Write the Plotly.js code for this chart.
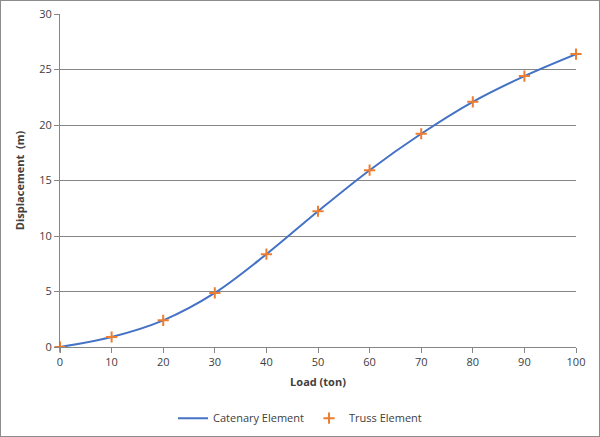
<!DOCTYPE html>
<html>
<head>
<meta charset="utf-8">
<script src="https://cdn.plot.ly/plotly-3.0.1.min.js"></script>
<style>
html,body{margin:0;padding:0;background:#fff;}
#wrap{width:598px;height:435px;border:1px solid #8c8c8c;}
#chart{width:598px;height:435px;}
</style>
</head>
<body>
<div id="wrap"><div id="chart"></div></div>
<script>
const load = [0, 10, 20, 30, 40, 50, 60, 70, 80, 90, 100];
const catenary = [0, 0.90, 2.40, 4.87, 8.36, 12.23, 15.93, 19.21, 22.09, 24.41, 26.39];
const truss = [0, 0.90, 2.40, 4.87, 8.36, 12.23, 15.93, 19.21, 22.09, 24.41, 26.39];
const xTicks = [0, 10, 20, 30, 40, 50, 60, 70, 80, 90, 100];
const yTicks = [0, 5, 10, 15, 20, 25, 30];

const font = "Open Sans, Liberation Sans, sans-serif";

const traces = [
  {
    x: load, y: catenary, type: 'scatter', mode: 'lines', name: 'Catenary Element',
    line: {color: '#4472C4', width: 2, shape: 'spline', smoothing: 1}
  },
  {
    x: load, y: truss, type: 'scatter', mode: 'markers', name: 'Truss Element',
    marker: {symbol: 'cross-thin-open', size: 8, color: '#ED7D31', line: {color: '#ED7D31', width: 2}},
    cliponaxis: false
  }
];

const layout = {
  width: 598, height: 435,
  margin: {l: 59, r: 23, t: 13, b: 89, autoexpand: false},
  paper_bgcolor: '#fff', plot_bgcolor: '#fff',
  font: {family: font, size: 11, color: '#404040'},
  showlegend: true,
  legend: {orientation: 'h', x: 0.5, xanchor: 'center', xref: 'container',
           y: 0.041, yanchor: 'middle', yref: 'container',
           font: {family: font, size: 11, color: '#404040'}, itemwidth: 30, tracegroupgap: 0},
  xaxis: {
    range: [0, 100], tickvals: xTicks, ticktext: xTicks.map(String),
    showgrid: false, zeroline: false, automargin: false,
    showline: true, linecolor: '#868686', linewidth: 1,
    ticks: 'outside', ticklen: 5, tickcolor: '#868686',
    tickfont: {family: font, size: 11, color: '#404040'},
    title: {text: '<b>Load (ton)</b>', font: {family: font, size: 11, color: '#404040'}, standoff: 10}
  },
  yaxis: {
    range: [0, 30], tickvals: yTicks, ticktext: yTicks.map(String),
    showgrid: true, gridcolor: '#868686', gridwidth: 1, zeroline: false, automargin: false,
    showline: true, linecolor: '#868686', linewidth: 1,
    ticks: 'outside', ticklen: 5, tickcolor: '#868686',
    tickfont: {family: font, size: 11, color: '#404040'},
    title: {text: '<b>Displacement  (m)</b>', font: {family: font, size: 11, color: '#404040'}, standoff: 12}
  }
};

Plotly.newPlot('chart', traces, layout, {displayModeBar: false, staticPlot: true});
</script>
</body>
</html>
